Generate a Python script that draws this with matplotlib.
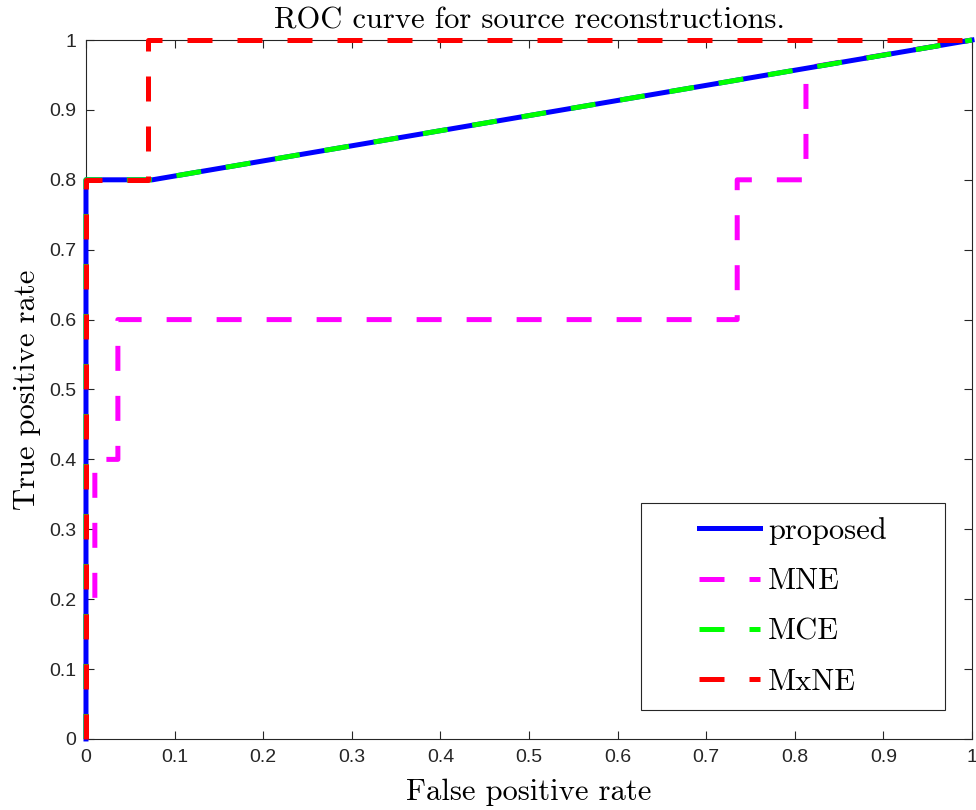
import numpy as np
import matplotlib
matplotlib.use('Agg')
import matplotlib.pyplot as plt
from matplotlib.patches import Rectangle
from matplotlib.ticker import FormatStrFormatter

# ROC points (false positive rate, true positive rate) per method
proposed_fpr = [0, 0, 0.075, 1]
proposed_tpr = [0, 0.8, 0.8, 1]

mne_fpr = [0, 0, 0.01, 0.01, 0.036, 0.036, 0.735, 0.735, 0.8126, 0.8126, 1]
mne_tpr = [0, 0.2, 0.2, 0.4, 0.4, 0.6, 0.6, 0.8, 0.8, 0.96, 1]

mce_fpr = [0, 0, 0.075, 1]
mce_tpr = [0, 0.8, 0.8, 1]

mxne_fpr = [0, 0, 0.07, 0.07, 1]
mxne_tpr = [0, 0.8, 0.8, 1, 1]

ticks = np.round(np.arange(0, 1.01, 0.1), 1)

serif = 'cmr10'
axis_col = '#262626'

fig = plt.figure(figsize=(9.76, 8.10), dpi=100, facecolor='white')
ax = fig.add_axes([0.0881, 0.0877, 0.9078, 0.8629])

lw = 3.6
dash = (5, 5)
ax.plot(mne_fpr, mne_tpr, color='#ff00ff', lw=lw, dashes=dash, label='MNE', zorder=2, clip_on=False)
ax.plot(proposed_fpr, proposed_tpr, color='#0000ff', lw=lw, label='proposed', zorder=3, clip_on=False)
ax.plot(mce_fpr, mce_tpr, color='#00ff00', lw=lw, dashes=dash, label='MCE', zorder=4, clip_on=False)
ax.plot(mxne_fpr, mxne_tpr, color='#ff0000', lw=lw, dashes=dash, label='MxNE', zorder=5, clip_on=False)

ax.set_xlim(0, 1)
ax.set_ylim(0, 1)
ax.set_xticks(ticks)
ax.set_yticks(ticks)
ax.xaxis.set_major_formatter(FormatStrFormatter('%g'))
ax.yaxis.set_major_formatter(FormatStrFormatter('%g'))
ax.tick_params(direction='in', length=6, width=0.8, top=True, right=True,
               colors=axis_col, labelsize=14, pad=7)
for lab in ax.get_xticklabels() + ax.get_yticklabels():
    lab.set_fontfamily('Liberation Sans')
for sp in ax.spines.values():
    sp.set_color(axis_col)
    sp.set_linewidth(0.8)

ax.set_title('ROC curve for source reconstructions.', fontfamily=serif, fontsize=22, pad=8)
ax.set_xlabel('False positive rate', fontfamily=serif, fontsize=22, labelpad=9)
ax.set_ylabel('True positive rate', fontfamily=serif, fontsize=22, labelpad=6)

# legend box drawn separately so the padding can be wide like the original
box_x0, box_x1 = 0.6264, 0.9695
box_y0, box_y1 = 0.0415, 0.3376
ax.add_patch(Rectangle((box_x0, box_y0), box_x1 - box_x0, box_y1 - box_y0,
                       transform=ax.transAxes, facecolor='white', edgecolor=axis_col,
                       lw=0.8, zorder=10))

handles, labels = ax.get_legend_handles_labels()
order = [1, 0, 2, 3]
leg = ax.legend([handles[i] for i in order], [labels[i] for i in order],
                loc='center', bbox_to_anchor=((box_x0 + box_x1) / 2, (box_y0 + box_y1) / 2),
                borderaxespad=0, prop={'family': serif, 'size': 22}, handlelength=2.0,
                handletextpad=0.26, labelspacing=0.75, borderpad=0.2, frameon=False)
leg.set_zorder(11)

fig.savefig('out.png', dpi=100, facecolor='white')
